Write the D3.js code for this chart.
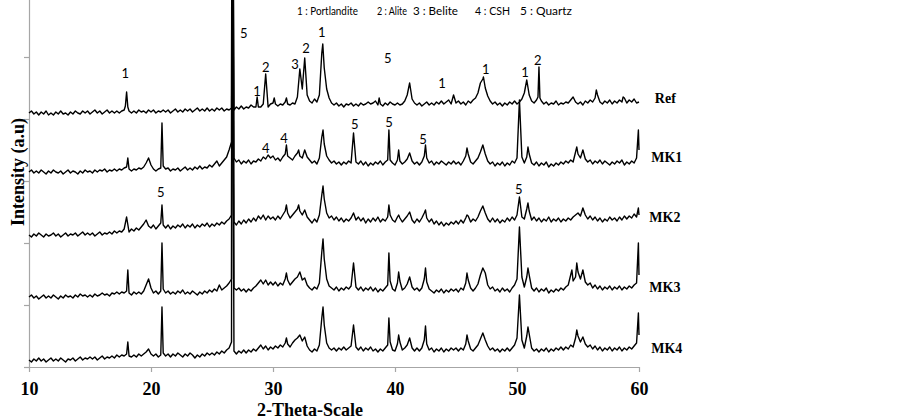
<!DOCTYPE html>
<html>
<head>
<meta charset="utf-8">
<script src="https://cdn.jsdelivr.net/npm/d3@7"></script>
<style>
body { margin: 0; background: #fff; }
svg { display: block; }
</style>
</head>
<body>
<script>
// XRD patterns, stacked. intensities are arbitrary units above each pattern's baseline
var names = ["Ref", "MK1", "MK2", "MK3", "MK4"];
var offsets = [254, 195, 132, 70, 7];
var labelLevels = [269, 210, 150, 80, 19];
var labelPos = [61.3, 61.0, 60.85, 60.85, 61.0];

// intensity read every 0.2 deg from 10 to 60
var gridRef = [
  0,2,-1,1,-2,1,-1,2,-2,0,-2,1,-1,2,-1,0,-2,1,-1,2,0,-1,2,0,2,
  -1,1,3,0,2,-1,1,3,0,2,0,2,0,2,3,4,2,0,2,0,3,1,2,0,3,
  1,3,0,2,1,3,1,3,0,2,4,1,3,1,4,2,4,1,3,5,2,4,2,5,2,
  4,2,5,3,5,2,4,3,5,3,6,4,7,4,6,5,8,6,6,6,6,9,8,6,9,
  10,9,7,9,8,11,9,8,10,9,16,44,24,55,18,12,10,14,11,18,60,45,24,15,10,
  8,10,7,9,6,9,8,10,7,9,7,10,8,9,11,9,10,12,8,9,7,10,8,11,9,
  8,10,8,9,12,18,30,14,10,8,10,7,9,11,8,10,8,11,9,12,9,11,13,9,18,
  10,12,9,11,8,12,10,13,15,20,30,34,25,17,12,9,11,8,10,7,10,8,11,9,12,
  9,11,14,20,33,18,12,10,13,46,12,9,11,8,10,9,12,8,10,9,11,10,13,16,11,
  9,11,8,12,10,13,11,15,18,11,9,12,10,13,9,12,10,13,11,15,10,13,11,14,10,
  11
];
var peaksRef = [[17.9,7],[18.0,21],[18.1,6],[26.65,420],[28.7,16],[29.4,39],[30.1,15],[31.1,15],
  [32.2,44],[32.6,55],[34.08,69],[38.7,15],[41.2,30],[44.8,18],[47.25,36],[50.8,33],
  [51.72,16],[51.8,46],[51.88,15],[56.5,23],[58.7,16]];

var gridMK1 = [
  0,2,-1,1,-1,2,0,-2,1,-1,2,0,-1,1,-2,0,2,-1,1,0,-2,1,-1,2,0,
  1,-1,2,0,2,1,3,0,2,1,3,1,3,2,4,5,3,1,3,2,4,3,5,9,14,
  7,3,1,3,4,6,3,4,1,3,2,4,1,3,5,2,4,2,5,3,6,3,5,4,7,
  5,8,11,6,9,12,15,22,30,14,10,12,8,11,9,12,8,11,10,13,11,15,13,17,14,
  16,12,14,11,15,18,16,14,12,16,19,16,14,22,15,12,9,11,8,14,35,28,16,12,9,
  11,8,10,7,10,8,11,9,39,10,8,11,7,10,6,9,7,10,8,11,7,10,12,12,9,
  7,12,11,8,10,13,19,11,8,10,7,10,16,14,9,11,7,10,8,11,9,7,10,8,11,
  8,10,7,11,16,18,10,8,11,14,20,27,18,11,8,10,6,9,7,10,6,9,7,11,9,
  14,72,15,9,15,18,9,7,10,6,9,7,10,5,8,6,9,7,10,8,11,9,12,10,20,
  18,14,22,13,10,12,8,11,9,12,8,11,9,7,10,8,11,9,12,7,10,8,11,9,14,
  22
];
var peaksMK1 = [[18.1,14],[20.9,49],[26.65,500],[31.1,27],[32.1,22],[34.1,42],[36.6,39],[39.5,42],
  [40.3,22],[42.5,27],[45.9,24],[50.2,72],[50.9,25],[54.9,25],[59.95,42]];

var gridMK2 = [
  0,-2,1,-1,2,0,-2,1,-1,0,2,-1,1,-2,0,2,-1,1,0,2,-1,1,3,0,2,
  0,2,-1,1,3,0,2,1,3,1,4,2,4,3,6,5,3,6,4,7,5,8,11,15,9,
  7,10,6,9,12,10,7,10,6,9,7,10,8,11,7,10,8,11,7,10,8,11,9,12,8,
  11,9,12,10,13,11,14,16,20,13,10,14,11,15,12,16,13,17,14,19,16,20,15,19,16,
  18,15,19,16,20,24,22,17,20,23,26,24,20,25,18,15,12,16,13,20,40,36,22,17,19,
  15,18,14,17,13,16,14,17,22,15,18,14,17,12,16,13,17,14,18,13,16,14,18,20,15,
  13,18,17,13,16,19,23,15,12,16,13,17,22,17,13,16,11,14,10,13,9,12,10,13,11,
  14,11,15,12,17,19,13,16,14,18,24,29,22,16,13,17,13,16,12,15,13,17,14,18,15,
  20,38,18,16,26,24,15,18,14,17,13,16,14,18,13,16,14,17,13,16,14,17,15,18,20,
  22,19,27,20,16,19,15,18,14,17,13,16,14,18,15,17,14,18,15,19,16,19,17,21,18,
  20
];
var peaksMK2 = [[18.0,18],[20.9,30],[26.65,500],[31.1,30],[32.1,30],[34.1,49],[39.5,30],
  [40.3,20],[42.5,25],[45.9,20],[50.2,38],[50.9,32],[59.95,27]];

var gridMK3 = [
  0,2,-1,1,-2,0,2,-1,1,-1,2,0,-2,1,-1,2,0,1,-1,2,0,3,1,2,0,
  2,0,3,1,2,4,2,3,1,4,3,5,3,5,4,6,4,2,5,3,5,3,6,12,18,
  9,4,6,3,6,8,4,6,3,5,3,6,4,7,3,5,3,6,4,2,5,3,6,4,7,
  5,8,6,12,7,9,11,14,18,9,7,9,6,8,5,8,6,9,11,14,17,13,17,12,15,
  12,15,11,14,12,18,17,12,15,18,20,25,17,19,12,9,7,10,8,14,45,38,18,11,9,
  7,10,6,9,7,10,8,11,34,10,7,10,6,9,7,10,6,9,5,8,6,9,12,16,8,
  6,14,16,7,9,13,20,10,7,9,6,9,18,15,8,6,4,7,5,8,4,7,5,8,6,
  8,5,9,7,14,17,9,6,9,13,22,29,24,12,8,10,6,8,5,9,6,8,5,9,12,
  18,70,20,10,20,22,9,6,9,5,8,6,9,4,7,5,8,6,9,7,10,12,22,16,20,
  25,18,27,15,12,14,9,12,8,11,7,10,8,11,7,10,8,11,7,10,8,11,9,12,14,
  22
];
var peaksMK3 = [[18.1,27],[20.9,54],[26.65,500],[31.1,24],[32.2,25],[34.1,58],[36.6,34],[39.5,44],
  [40.3,25],[42.5,29],[45.9,24],[50.2,70],[50.9,29],[54.5,27],[54.9,34],[59.95,54]];

var gridMK4 = [
  0,-2,1,-1,2,-1,1,-2,0,2,-1,1,-1,2,0,-2,1,0,2,-1,1,3,0,2,1,
  3,1,3,0,2,4,1,3,2,4,2,5,3,5,4,6,4,3,5,3,6,4,6,8,11,
  6,4,6,3,5,7,4,6,3,6,4,7,5,3,6,4,7,5,2,5,3,6,4,7,5,
  7,5,8,6,9,7,10,12,18,9,6,9,7,10,7,10,8,11,9,12,15,11,14,10,13,
  11,14,12,15,13,17,16,13,17,20,22,25,19,23,14,10,8,11,9,15,42,35,17,12,10,
  12,9,12,10,13,10,12,14,35,13,10,13,9,12,10,13,9,11,8,11,9,12,15,18,10,
  9,16,18,10,12,15,20,12,9,12,9,12,20,16,10,12,8,11,9,12,8,11,9,12,10,
  12,9,12,10,16,19,11,9,12,15,21,27,20,14,10,12,9,11,8,11,9,12,9,12,15,
  22,65,20,12,24,26,12,9,11,8,11,9,12,8,11,9,12,10,13,10,13,11,15,13,22,
  24,18,23,16,13,15,11,14,10,13,9,12,10,13,9,12,10,13,9,12,10,13,11,14,17,
  25
];
var peaksMK4 = [[18.1,18],[20.9,53],[26.65,500],[31.1,22],[32.2,25],[32.6,23],[34.1,53],[36.6,35],
  [39.5,42],[40.3,25],[41.2,22],[42.5,34],[45.9,25],[50.2,65],[50.9,33],[54.9,30],[59.95,47]];

var legendItems = ["1 : Portlandite", "2 : Alite", "3 : Belite", "4 : CSH", "5 : Quartz"];
var legendPos = [297, 377, 413, 475, 520];
var legendWidth = [61, 30, 45, 35, 52];

// peak markers: [text, 2-theta, level]
var marks = [
  ["1",17.9,294],["5",27.6,334],["1",28.7,276],["2",29.4,300],["3",31.8,303],["2",32.7,319],
  ["1",34.0,335],["5",39.4,309],["1",43.85,284],["1",47.45,298],["1",50.65,295],["2",51.7,307],
  ["4",29.4,219],["4",30.9,229],["5",36.7,243],["5",39.5,245],["5",42.3,228],
  ["5",20.8,175],["5",50.15,178]
];

var grids = [gridRef, gridMK1, gridMK2, gridMK3, gridMK4];
var peaks = [peaksRef, peaksMK1, peaksMK2, peaksMK3, peaksMK4];

var v = 903, h = 420;
var x = d3.scaleLinear().domain([10, 60]).range([29, 639]);
var y = d3.scaleLinear().domain([0, 372]).range([367, -5]);

var svg = d3.select("body").append("svg")
    .attr("width", v)
    .attr("height", h);

function merge(grid, pk) {
    var pts = grid.map(function (val, i) { return [10 + i * 0.2, val]; });
    pts = pts.filter(function (p) {
        return !pk.some(function (q) { return Math.abs(q[0] - p[0]) < 1e-6; });
    });
    return pts.concat(pk).sort(function (a, b) { return a[0] - b[0]; });
}

// axes
var xAxis = d3.axisBottom(x).tickValues([10, 20, 30, 40, 50, 60])
    .tickSizeInner(5).tickSizeOuter(0).tickPadding(10);
var yAxis = d3.axisLeft(y).tickValues([0, 62, 124, 186, 248, 310])
    .tickSizeInner(5).tickSizeOuter(0).tickFormat("");

var gx = svg.append("g").attr("transform", "translate(0,367)").call(xAxis);
var gy = svg.append("g").attr("transform", "translate(29,0)").call(yAxis);
svg.selectAll(".domain, .tick line").attr("stroke", "#a6a6a6").attr("stroke-width", 1.2);
gx.selectAll("text")
    .style("font-family", "'Liberation Serif', 'Times New Roman', serif")
    .style("font-weight", "bold")
    .style("font-size", "18px")
    .attr("fill", "#000");

// patterns
var line = d3.line()
    .x(function (d) { return x(d[0]); })
    .y(function (d) { return y(d[1]); });

names.forEach(function (name, i) {
    var pts = merge(grids[i], peaks[i]).map(function (p) { return [p[0], p[1] + offsets[i]]; });
    svg.append("path")
        .datum(pts)
        .attr("d", line)
        .attr("fill", "none")
        .attr("stroke", "#000")
        .attr("stroke-width", 1.4)
        .attr("stroke-linejoin", "round");

    svg.append("text")
        .attr("x", x(labelPos[i]))
        .attr("y", y(labelLevels[i]))
        .attr("dy", "0.35em")
        .style("font-family", "'Liberation Serif', 'Times New Roman', serif")
        .style("font-weight", "bold")
        .style("font-size", "14px")
        .text(name);
});

// peak numbers
svg.selectAll(".mark")
    .data(marks)
    .enter()
    .append("text")
    .attr("class", "mark")
    .attr("x", function (d) { return x(d[1]); })
    .attr("y", function (d) { return y(d[2]); })
    .attr("dy", "0.35em")
    .attr("text-anchor", "middle")
    .style("font-family", "Lato, 'Open Sans', sans-serif")
    .style("font-size", "13px")
    .text(function (d) { return d[0]; });

// legend
svg.selectAll(".legend")
    .data(legendItems)
    .enter()
    .append("text")
    .attr("class", "legend")
    .attr("x", function (d, i) { return legendPos[i]; })
    .attr("y", 15)
    .attr("textLength", function (d, i) { return legendWidth[i]; })
    .attr("lengthAdjust", "spacingAndGlyphs")
    .style("font-family", "Lato, 'Open Sans', sans-serif")
    .style("font-size", "11px")
    .text(function (d) { return d; });

// axis titles
svg.append("text")
    .attr("x", 310)
    .attr("y", 416)
    .attr("text-anchor", "middle")
    .style("font-family", "'Liberation Serif', 'Times New Roman', serif")
    .style("font-weight", "bold")
    .style("font-size", "18px")
    .text("2-Theta-Scale");

svg.append("text")
    .attr("transform", "translate(18,172) rotate(-90)")
    .attr("dy", "0.35em")
    .attr("text-anchor", "middle")
    .style("font-family", "'Liberation Serif', 'Times New Roman', serif")
    .style("font-weight", "bold")
    .style("font-size", "18px")
    .text("Intensity (a.u)");
</script>
</body>
</html>
